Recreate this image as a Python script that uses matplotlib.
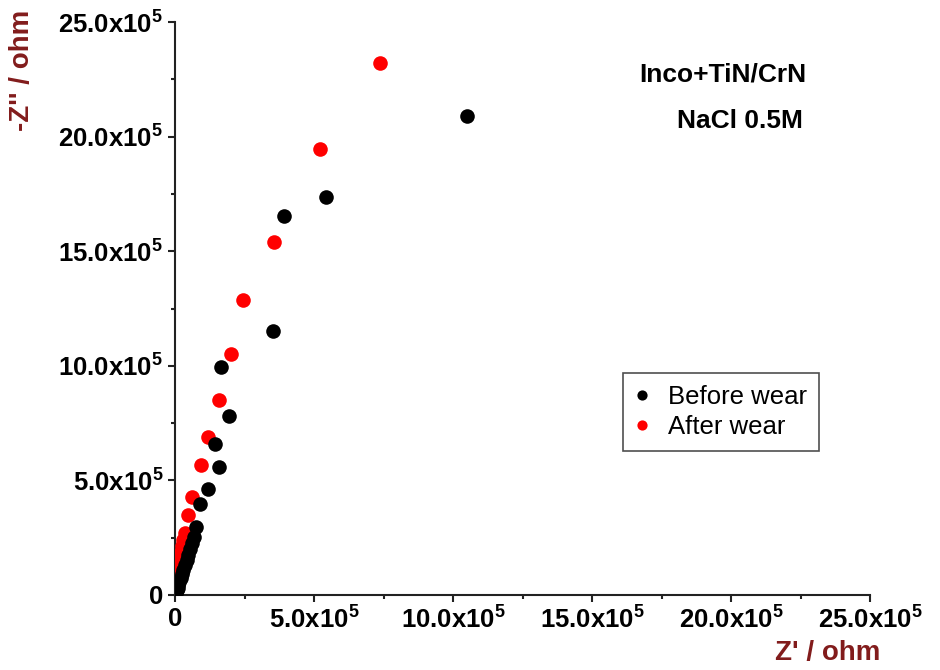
import matplotlib
matplotlib.use("Agg")
import matplotlib.pyplot as plt

plt.rcParams['font.family'] = ['Liberation Sans', 'DejaVu Sans']
plt.rcParams['mathtext.fontset'] = 'custom'
plt.rcParams['mathtext.rm'] = 'Liberation Sans:bold'
plt.rcParams['mathtext.it'] = 'Liberation Sans:bold'
plt.rcParams['mathtext.bf'] = 'Liberation Sans:bold'

# data in units of 1e5 ohm
before_x = [10.5, 5.43, 3.92, 3.53, 1.65, 1.94, 1.44, 1.58, 1.19, 0.90, 0.76,
            0.70, 0.62, 0.55, 0.48, 0.42, 0.36, 0.30, 0.25, 0.20, 0.16, 0.12,
            0.09, 0.06, 0.04, 0.02, 0.01]
before_y = [20.9, 17.37, 16.54, 11.52, 9.95, 7.81, 6.59, 5.58, 4.62, 3.97, 2.97,
            2.55, 2.25, 2.00, 1.75, 1.52, 1.30, 1.10, 0.90, 0.73, 0.58, 0.44,
            0.32, 0.22, 0.14, 0.07, 0.03]
after_x = [7.37, 5.22, 3.56, 2.45, 2.01, 1.58, 1.19, 0.94, 0.61, 0.47, 0.36,
           0.30, 0.26, 0.22, 0.19, 0.16, 0.13, 0.11, 0.09, 0.07, 0.05, 0.04,
           0.03, 0.02, 0.01, 0.005]
after_y = [23.21, 19.46, 15.40, 12.87, 10.51, 8.51, 6.89, 5.67, 4.28, 3.49, 2.71,
           2.40, 2.12, 1.86, 1.62, 1.40, 1.20, 1.00, 0.83, 0.67, 0.52, 0.40,
           0.29, 0.19, 0.10, 0.04]

tick_values = [0, 5, 10, 15, 20, 25]
minor_values = [2.5, 7.5, 12.5, 17.5, 22.5]
tick_labels = ['0', '5.0x10$^5$', '10.0x10$^5$', '15.0x10$^5$', '20.0x10$^5$', '25.0x10$^5$']
series_labels = ['Before wear', 'After wear']
annotation_lines = ['Inco+TiN/CrN', 'NaCl 0.5M']
x_label = "Z' / ohm"
y_label = "-Z'' / ohm"

fig = plt.figure(figsize=(9.4, 6.7), dpi=100)
ax = fig.add_axes([175/940, 1-595/670, (870-175)/940, (595-22)/670])

ax.plot(after_x, after_y, 'o', color='#ff0000', ms=10.5, mec='none', label=series_labels[1], zorder=3)
ax.plot(before_x, before_y, 'o', color='#000000', ms=10.5, mec='none', label=series_labels[0], zorder=4)

ax.set_xlim(0, 25)
ax.set_ylim(0, 25)
for s in ['top', 'right']:
    ax.spines[s].set_visible(False)
for s in ['left', 'bottom']:
    ax.spines[s].set_linewidth(1.5)
    ax.spines[s].set_color('#222222')

ax.set_xticks(tick_values)
ax.set_xticklabels(tick_labels)
ax.set_yticks(tick_values)
ax.set_yticklabels(tick_labels)
ax.set_xticks(minor_values, minor=True)
ax.set_yticks(minor_values, minor=True)
ax.tick_params(which='major', length=5, width=1.5, direction='out', labelsize=18.5, color='#222222')
ax.tick_params(which='minor', length=3, width=1.5, direction='out', color='#222222')
for lab in ax.get_xticklabels() + ax.get_yticklabels():
    lab.set_fontweight('bold')

fig.text(828/940, 1-653/670, x_label, color='#821c1c', fontsize=20, fontweight='bold', ha='center', va='center')
fig.text(22/940, 1-70/670, y_label, color='#821c1c', fontsize=20, fontweight='bold', ha='center', va='center', rotation=90)

fig.text(723/940, 1-75/670, annotation_lines[0], fontsize=19, fontweight='bold', ha='center', va='center')
fig.text(740/940, 1-121/670, annotation_lines[1], fontsize=19, fontweight='bold', ha='center', va='center')

h, l = ax.get_legend_handles_labels()
leg = ax.legend([h[1], h[0]], [l[1], l[0]], loc='upper left',
                bbox_to_anchor=((623-175)/695, (595-373)/573),
                fontsize=18.5, frameon=True, fancybox=False, markerscale=0.7,
                handlelength=0.6, handletextpad=0.7, borderpad=0.45, labelspacing=0.25,
                borderaxespad=0)
leg.get_frame().set_edgecolor('#222222')
leg.get_frame().set_linewidth(1.2)

fig.savefig('out.png', dpi=100)
